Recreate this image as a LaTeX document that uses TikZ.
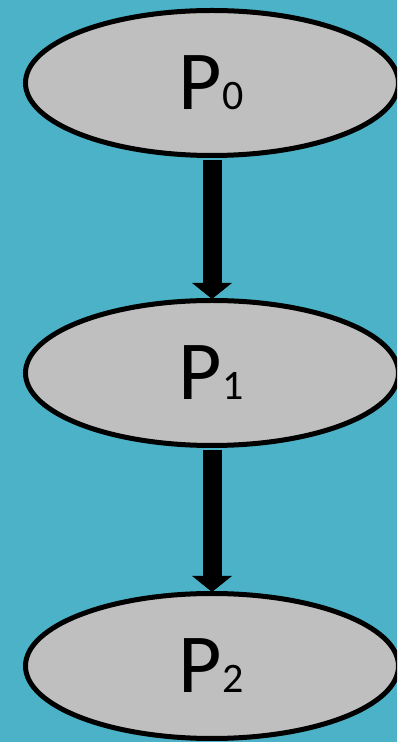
\documentclass[tikz,border=0pt]{standalone}
\usepackage{fontspec}
\setmainfont{Carlito}
\usetikzlibrary{shapes.geometric,arrows.meta}
\definecolor{bgteal}{HTML}{4BB2C8}
\definecolor{nodegray}{HTML}{BFBFBF}
\tikzset{
  pnode/.style={ellipse, draw=black, line width=5pt, fill=nodegray,
    minimum width=373pt, minimum height=145pt, inner sep=0pt},
  plabel/.style={font=\fontsize{84}{84}\selectfont, inner sep=0pt},
  parrow/.style={line width=19pt, draw=black, -{Triangle[width=39pt,length=16pt]}}
}
\newcommand{\plab}[1]{P{\fontsize{42}{42}\selectfont #1}}
\begin{document}
\begin{tikzpicture}[x=1pt,y=1pt]
  \fill[bgteal] (0,0) rectangle (397,742);
  \useasboundingbox (0,0) rectangle (397,742);
  \begin{scope}
  \clip (0,0) rectangle (397,742);
  \node[pnode] (p0) at (212,659) {};
  \node[pnode] (p1) at (212,369) {};
  \node[pnode] (p2) at (212,76) {};
  \end{scope}
  \node[plabel] (l0) at ([xshift=-1pt]p0) {\plab{0}};
  \node[plabel] (l1) at ([xshift=-1pt]p1) {\plab{1}};
  \node[plabel] (l2) at ([xshift=-1pt]p2) {\plab{2}};
  \draw[parrow] ([yshift=-2pt]p0.south) -- ([yshift=-1pt]p1.north);
  \draw[parrow] ([yshift=-2pt]p1.south) -- ([yshift=-1pt]p2.north);
\end{tikzpicture}
\end{document}
